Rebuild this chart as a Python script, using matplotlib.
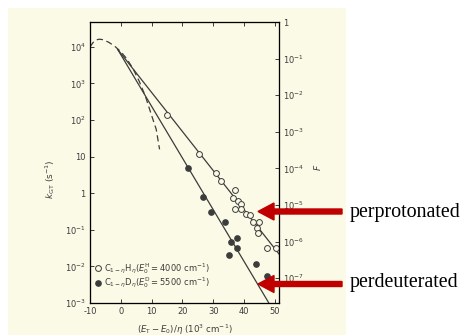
import numpy as np
import matplotlib
matplotlib.use("Agg")
import matplotlib.pyplot as plt
from matplotlib.patches import Rectangle, FancyArrow
from matplotlib.transforms import IdentityTransform

# dashed theoretical curve, (E_T-E_0)/eta vs log10 k_GT
curve_x = [-10, -9, -8, -7, -6, -4, -2, 0, 2, 4, 6, 8, 10, 11.5, 12.6]
curve_logk = [4.0, 4.12, 4.19, 4.21, 4.20, 4.13, 4.02, 3.87, 3.67, 3.40, 3.06, 2.65, 2.13, 1.75, 1.2]

# straight asymptotic lines
h_line_x = [-1, 51.4]
h_line_logk = [3.93, -1.66]
d_line_x = [-1, 48.1]
d_line_logk = [3.93, -3.0]

# perprotonated (open circles)
h_x = [15.0, 25.4, 30.8, 32.7, 37.1, 36.5, 38.1, 39.0, 37.1, 39.2, 40.8, 41.9, 43.0, 44.9, 44.1, 44.7, 47.6, 50.3]
h_logk = [2.14, 1.08, 0.54, 0.34, 0.09, -0.14, -0.22, -0.29, -0.42, -0.42, -0.56, -0.60, -0.78, -0.78, -0.96, -1.09, -1.51, -1.51]

# perdeuterated (filled circles)
d_x = [21.7, 26.8, 29.2, 34.0, 35.7, 37.9, 37.8, 35.1, 43.9, 47.4]
d_logk = [0.68, -0.10, -0.50, -0.79, -1.33, -1.23, -1.51, -1.70, -1.93, -2.27]

x_ticks = [-10, 0, 10, 20, 30, 40, 50]
k_ticks = [1e-3, 1e-2, 1e-1, 1, 10, 1e2, 1e3, 1e4]
k_labels = ["$10^{-3}$", "$10^{-2}$", "$10^{-1}$", "1", "10", "$10^{2}$", "$10^{3}$", "$10^{4}$"]
f_ticks = [1e-7, 1e-6, 1e-5, 1e-4, 1e-3, 1e-2, 1e-1, 1]
f_labels = ["$10^{-7}$", "$10^{-6}$", "$10^{-5}$", "$10^{-4}$", "$10^{-3}$", "$10^{-2}$", "$10^{-1}$", "1"]

ink = "#3c3c3c"
cream = "#fbfae6"
red = "#c00000"

fig = plt.figure(figsize=(4.65, 3.35), dpi=100)
fig.patch.set_facecolor("white")
fig.add_artist(Rectangle((8 / 465, 0), 338 / 465, 327 / 335, transform=fig.transFigure,
                         facecolor=cream, edgecolor="none", zorder=-10))

ax = fig.add_axes([90 / 465, 32 / 335, 189 / 465, 281 / 335])
ax.patch.set_alpha(0)

pw = lambda a: 10 ** np.array(a)
ax.plot(curve_x, pw(curve_logk), color=ink, lw=0.9, dashes=(5, 3))
ax.plot(h_line_x, pw(h_line_logk), color=ink, lw=0.9)
ax.plot(d_line_x, pw(d_line_logk), color=ink, lw=0.9)
hh, = ax.plot(h_x, pw(h_logk), "o", ms=4.2, mfc=cream, mec=ink, mew=0.7, ls="none",
              label=r"$\mathrm{C}_{1-\eta}\mathrm{H}_{\eta}(E_0^{\mathrm{H}}=4000\ \mathrm{cm}^{-1})$")
dd, = ax.plot(d_x, pw(d_logk), "o", ms=3.8, mfc=ink, mec=ink, ls="none",
              label=r"$\mathrm{C}_{1-\eta}\mathrm{D}_{\eta}(E_0^{\mathrm{D}}=5500\ \mathrm{cm}^{-1})$")

ax.set_yscale("log")
ax.set_xlim(-10, 51.4)
ax.set_ylim(1e-3, 10 ** 4.68)
ax.set_xticks(x_ticks)
ax.set_xticklabels([str(t) for t in x_ticks])
ax.set_yticks(k_ticks)
ax.set_yticklabels(k_labels)
ax.yaxis.set_minor_locator(matplotlib.ticker.NullLocator())
ax.tick_params(direction="in", length=3, width=0.7, colors=ink, labelsize=6, top=True, pad=3)
for s in ax.spines.values():
    s.set_color(ink)
    s.set_linewidth(0.9)

ax2 = ax.twinx()
ax2.set_yscale("log")
ax2.set_ylim(10 ** -7.68, 1)
ax2.set_yticks(f_ticks)
ax2.set_yticklabels(f_labels)
ax2.yaxis.set_minor_locator(matplotlib.ticker.NullLocator())
ax2.tick_params(direction="in", length=3, width=0.7, colors=ink, labelsize=6, pad=3)

ax.set_ylabel(r"$k_{\mathrm{GT}}\ (\mathrm{s}^{-1})$", fontsize=6.5, color=ink)
ax.yaxis.set_label_coords(-0.175, 0.44)
ax2.set_ylabel(r"$F$", fontsize=6.5, color=ink)
ax2.yaxis.set_label_coords(1.175, 0.484)
ax.set_xlabel(r"$(E_{\mathrm{T}}-E_0)/\eta\ (10^3\ \mathrm{cm}^{-1})$", fontsize=6.2, color=ink)
ax.xaxis.set_label_coords(0.5, -0.068)

leg = ax.legend(handles=[hh, dd], loc="upper left", bbox_to_anchor=(0.02, 0.148), frameon=False,
                fontsize=6, handletextpad=0.2, handlelength=1.0, labelspacing=-0.05,
                borderaxespad=0, borderpad=0, labelcolor=ink)

# red annotation arrows, in figure pixels
for y in (335 - 211.5, 335 - 284):
    fig.add_artist(FancyArrow(342, y, -84, 0, width=5, head_width=17, head_length=16,
                              length_includes_head=True, color=red, transform=IdentityTransform()))
fig.text(350 / 465, (335 - 212) / 335, "perprotonated", family="Liberation Serif", fontsize=14.4,
         va="center", ha="left", color="black")
fig.text(350 / 465, (335 - 283) / 335, "perdeuterated", family="Liberation Serif", fontsize=14.4,
         va="center", ha="left", color="black")

fig.savefig("out.png", dpi=100)
